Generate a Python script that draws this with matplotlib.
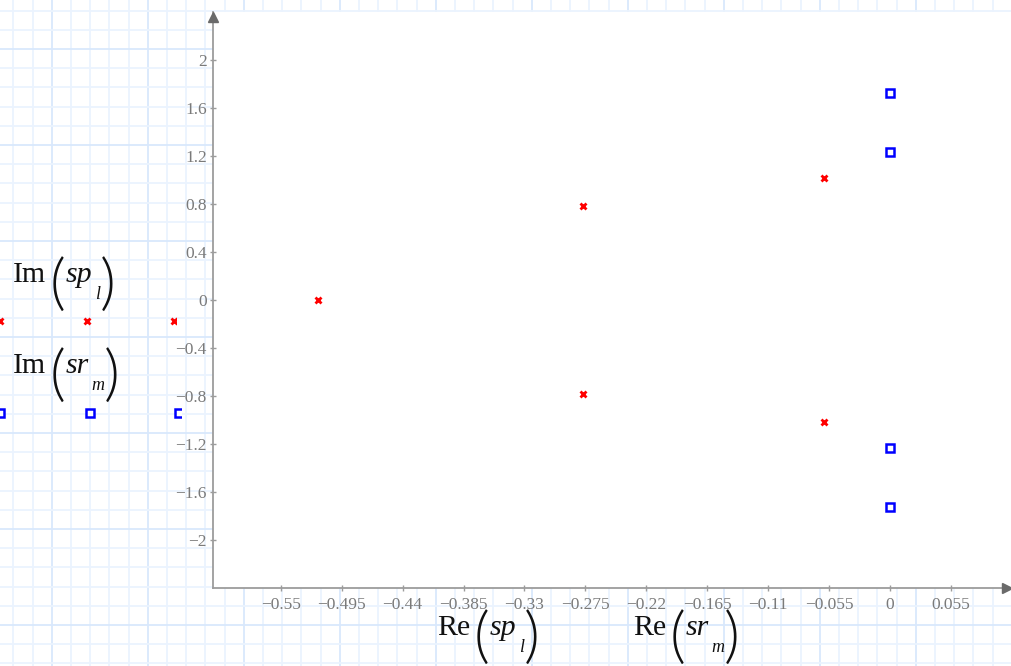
import matplotlib
matplotlib.use("Agg")
import matplotlib.pyplot as plt
from matplotlib.transforms import offset_copy

# ---- data ----
sp_re = [-0.5164, -0.2772, -0.2772, -0.0599, -0.0599]
sp_im = [0.0, 0.785, -0.785, 1.014, -1.014]
sr_re = [0.0, 0.0, 0.0, 0.0]
sr_im = [1.722, 1.234, -1.234, -1.722]

xtick_vals = [-0.55, -0.495, -0.44, -0.385, -0.33, -0.275, -0.22, -0.165, -0.11, -0.055, 0.0, 0.055]
xtick_labels = ["\u22120.55", "\u22120.495", "\u22120.44", "\u22120.385", "\u22120.33", "\u22120.275",
                "\u22120.22", "\u22120.165", "\u22120.11", "\u22120.055", "0", "0.055"]
ytick_vals = [-2.0, -1.6, -1.2, -0.8, -0.4, 0.0, 0.4, 0.8, 1.2, 1.6, 2.0]
ytick_labels = ["\u22122", "\u22121.6", "\u22121.2", "\u22120.8", "\u22120.4", "0",
                "0.4", "0.8", "1.2", "1.6", "2"]

# label pieces: (function, variable, subscript)
label_y_sp = ("Im", "sp", "l")
label_y_sr = ("Im", "sr", "m")
label_x_sp = ("Re", "sp", "l")
label_x_sr = ("Re", "sr", "m")

plt.rcParams['font.family'] = ['Liberation Serif', 'DejaVu Serif']

W, H = 1011, 666
fig = plt.figure(figsize=(W / 100, H / 100), dpi=100)

# ---- background: grid paper in pixel coordinates ----
bg = fig.add_axes([0, 0, 1, 1], zorder=0)
bg.set_xlim(0, W)
bg.set_ylim(H, 0)
bg.axis('off')
step = 19.2
minor_c, major_c = '#ebf3fe', '#d9e8fc'
for k in range(-4, 60):
    x = 51.7 + step * k
    if -5 < x < W + 5:
        bg.axvline(x, color=major_c if k % 5 == 0 else minor_c, lw=1.3, zorder=0)
for k in range(-10, 40):
    y = 145.0 + step * k
    if -5 < y < H + 5:
        bg.axhline(y, color=major_c if k % 5 == 0 else minor_c, lw=1.3, zorder=0)


def mathcad_label(x0, base, pieces, sub_dx, sub_w):
    func, var, sub = pieces
    tc = '#111111'
    pfam = ['Lato', 'DejaVu Sans']
    bg.text(x0, base, func, fontsize=21.5, color=tc, va='baseline', ha='left')
    xo = x0 + 44.5
    bg.text(xo, base + 21, "(", fontsize=44, color=tc, va='baseline', ha='center',
            family=pfam, fontweight=300)
    bg.text(xo + 8.5, base, var, fontsize=21.5, style='italic', color=tc,
            va='baseline', ha='left')
    bg.text(xo + 8.5 + sub_dx, base + 17, sub, fontsize=13, style='italic', color=tc,
            va='baseline', ha='left')
    bg.text(xo + 8.5 + sub_dx + sub_w + 6.5, base + 21, ")", fontsize=44, color=tc,
            va='baseline', ha='center', family=pfam, fontweight=300)


mathcad_label(13, 282, label_y_sp, 29, 6)
mathcad_label(13, 373, label_y_sr, 25, 14)
mathcad_label(437, 635, label_x_sp, 29, 6)
mathcad_label(633, 635, label_x_sr, 25, 14)

# trace samples beside the y labels
clip = plt.Rectangle((0, 0), 176, H, transform=bg.transData)
l1, = bg.plot([0, 87.3, 173.7], [321, 321, 321], ls='none', marker='x', color='#ff0000',
              ms=5, mew=2.0, zorder=3)
clip2 = plt.Rectangle((0, 0), 181, H, transform=bg.transData)
l2, = bg.plot([0, 90.3, 179], [412.7, 412.7, 412.7], ls='none', marker='s', mfc='white',
              mec='#0000ff', ms=5.5, mew=1.8, zorder=3)
l1.set_clip_path(clip)
l2.set_clip_path(clip2)

# ---- main plot ----
ax = fig.add_axes([213 / W, (H - 588) / H, 798 / W, 576 / H], zorder=1)
ax.set_facecolor('white')
ax.set_xlim(-0.6112, 0.1093)
ax.set_ylim(-2.4, 2.4)

ax.plot(sp_re, sp_im, ls='none', marker='x', color='#ff0000', ms=5, mew=2.0, zorder=3)
ax.plot(sr_re, sr_im, ls='none', marker='s', mfc='white', mec='#0000ff', ms=5.5, mew=1.8, zorder=3)

axis_c = '#9c9c9c'
for s in ['top', 'right']:
    ax.spines[s].set_visible(False)
for s in ['left', 'bottom']:
    ax.spines[s].set_color(axis_c)
    ax.spines[s].set_linewidth(1.3)

ax.set_xticks(xtick_vals)
ax.set_xticklabels(xtick_labels)
ax.set_yticks(ytick_vals)
ax.set_yticklabels(ytick_labels)
ax.tick_params(axis='both', direction='inout', length=5, width=1, color=axis_c,
               labelcolor='#7a7a7a', labelsize=12.5)
ax.tick_params(axis='x', pad=4)
ax.tick_params(axis='y', pad=2)

# arrow heads at the axis ends
tr_up = offset_copy(ax.transAxes, fig=fig, x=0, y=-4.5, units='dots')
ax.plot([0], [1], marker='^', color='#6a6a6a', ms=6.5, transform=tr_up, clip_on=False, zorder=4)
tr_rt = offset_copy(ax.transAxes, fig=fig, x=-4.5, y=0, units='dots')
ax.plot([1], [0], marker='>', color='#6a6a6a', ms=6.5, transform=tr_rt, clip_on=False, zorder=4)

fig.savefig('out.png', dpi=100)
